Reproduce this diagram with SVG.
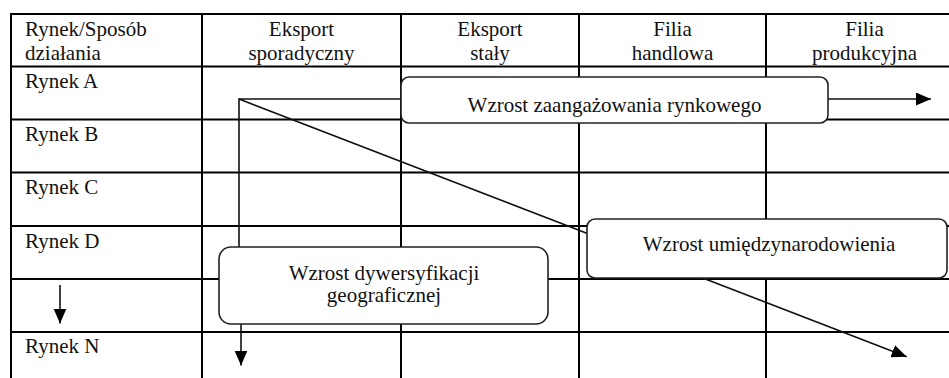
<svg xmlns="http://www.w3.org/2000/svg" width="949" height="378" viewBox="0 0 949 378">
<style>
text{font-size:21px;fill:#111}
.c{text-anchor:middle}
.grid line{stroke:#000;stroke-width:2}
.con{stroke:#111;stroke-width:1.6;fill:none}
.box{fill:#fff;stroke:#222;stroke-width:1.6}
</style>
<defs>
<marker id="ah" markerUnits="userSpaceOnUse" markerWidth="16" markerHeight="14" refX="15" refY="6.5" orient="auto">
<path d="M0,0 L15,6.5 L0,13 z" fill="#000"/>
</marker>
</defs>
<g id="table" class="grid">
<line x1="11" y1="14" x2="949" y2="14"/>
<line x1="11" y1="66.5" x2="949" y2="66.5"/>
<line x1="11" y1="119.5" x2="949" y2="119.5"/>
<line x1="11" y1="172.5" x2="949" y2="172.5"/>
<line x1="11" y1="226" x2="949" y2="226"/>
<line x1="11" y1="279" x2="949" y2="279"/>
<line x1="11" y1="332" x2="949" y2="332"/>
<line x1="11" y1="13" x2="11" y2="378"/>
<line x1="202" y1="13" x2="202" y2="378"/>
<line x1="401" y1="13" x2="401" y2="378"/>
<line x1="579" y1="13" x2="579" y2="378"/>
<line x1="766" y1="13" x2="766" y2="378"/>
</g>
<g id="headers" font-family="Liberation Serif, DejaVu Serif, serif">
<text x="25" y="36">Rynek/Sposób</text>
<text x="25" y="60">działania</text>
<text class="c" x="301.5" y="36">Eksport</text>
<text class="c" x="301.5" y="60">sporadyczny</text>
<text class="c" x="490" y="36">Eksport</text>
<text class="c" x="490" y="60">stały</text>
<text class="c" x="672.5" y="36">Filia</text>
<text class="c" x="672.5" y="60">handlowa</text>
<text class="c" x="864.5" y="36">Filia</text>
<text class="c" x="864.5" y="60">produkcyjna</text>
</g>
<g id="rows" font-family="Liberation Serif, DejaVu Serif, serif">
<text x="25" y="88">Rynek A</text>
<text x="25" y="141">Rynek B</text>
<text x="25" y="194">Rynek C</text>
<text x="25" y="247.5">Rynek D</text>
<text x="25" y="353">Rynek N</text>
</g>
<g id="connectors">
<line class="con" x1="60" y1="285" x2="60" y2="323.5" marker-end="url(#ah)"/>
<polyline class="con" points="239,247 239,99 401,99"/>
<line class="con" x1="828" y1="99" x2="931" y2="99" marker-end="url(#ah)"/>
<line class="con" x1="239" y1="99" x2="906.7" y2="356.7" marker-end="url(#ah)"/>
<line class="con" x1="241" y1="324" x2="241" y2="365.5" marker-end="url(#ah)"/>
</g>
<g id="node-zaangazowanie" font-family="Liberation Serif, DejaVu Serif, serif">
<rect class="box" x="401" y="77" width="427" height="46" rx="8"/>
<text class="c" x="614.5" y="111.5">Wzrost zaangażowania rynkowego</text>
</g>
<g id="node-umiedzynarodowienie" font-family="Liberation Serif, DejaVu Serif, serif">
<rect class="box" x="587" y="219" width="360" height="59" rx="8"/>
<text class="c" x="769" y="251">Wzrost umiędzynarodowienia</text>
</g>
<g id="node-dywersyfikacja" font-family="Liberation Serif, DejaVu Serif, serif">
<rect class="box" x="219" y="247" width="329" height="77" rx="12"/>
<text class="c" x="384" y="280">Wzrost dywersyfikacji</text>
<text class="c" x="384" y="302">geograficznej</text>
</g>
</svg>
